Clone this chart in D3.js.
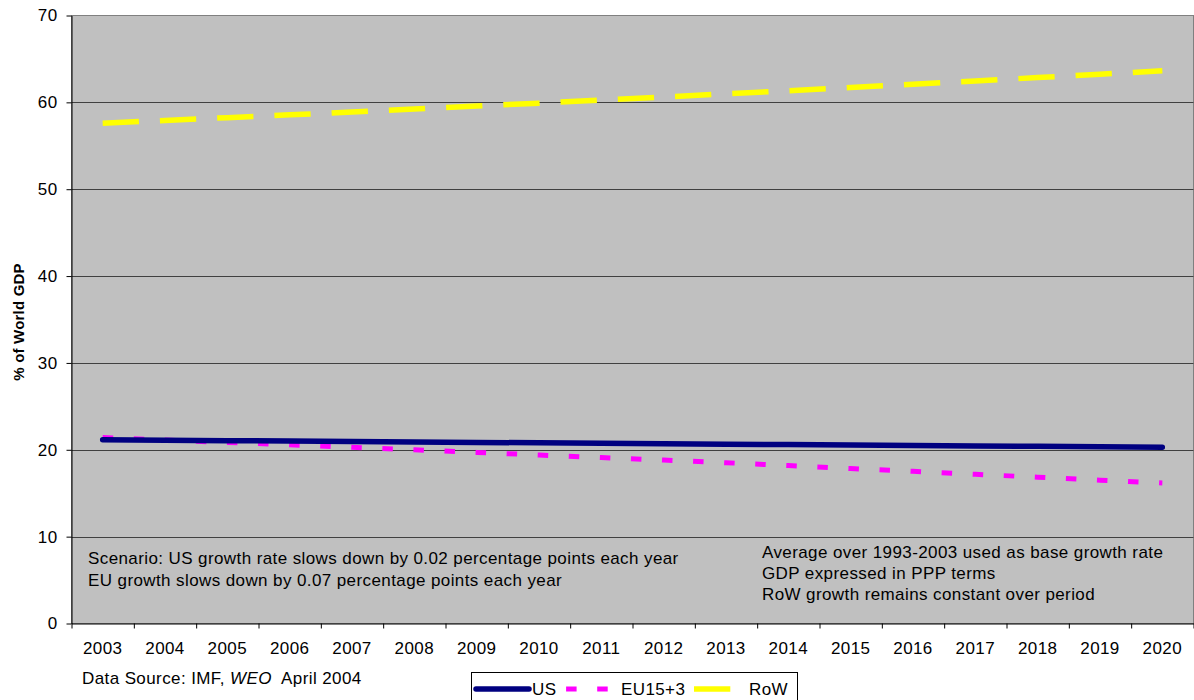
<!DOCTYPE html>
<html>
<head>
<meta charset="utf-8">
<script src="https://cdn.jsdelivr.net/npm/d3@7"></script>
<style>
  html, body { margin: 0; padding: 0; background: #ffffff; }
  svg { display: block; font-family: Arial, "Liberation Sans", sans-serif; }
  svg text { letter-spacing: 0.4px; }
</style>
</head>
<body>
<svg id="chart" width="1194" height="700"></svg>
<script>
// Share of world GDP (PPP), projection 2003-2020
const years = ["2003","2004","2005","2006","2007","2008","2009","2010","2011","2012",
               "2013","2014","2015","2016","2017","2018","2019","2020"];
const usValues  = [21.15, 21.10, 21.05, 21.00, 20.95, 20.90, 20.85, 20.80, 20.75, 20.70,
                   20.65, 20.60, 20.55, 20.50, 20.45, 20.40, 20.35, 20.30];
const euValues  = [21.42, 21.13, 20.84, 20.58, 20.29, 20.00, 19.70, 19.40, 19.10, 18.81,
                   18.51, 18.18, 17.84, 17.52, 17.18, 16.84, 16.50, 16.18];
const rowValues = [57.60, 57.92, 58.24, 58.56, 58.89, 59.23, 59.57, 59.91, 60.26, 60.62,
                   60.98, 61.34, 61.71, 62.09, 62.47, 62.85, 63.24, 63.64];
const yTicks = [0, 10, 20, 30, 40, 50, 60, 70];
const seriesNames = ["US", "EU15+3", "RoW"];
const leftNotes = ["Scenario: US growth rate slows down by 0.02 percentage points each year",
                   "EU growth slows down by 0.07 percentage points each year"];
const rightNotes = ["Average over 1993-2003 used as base growth rate",
                    "GDP expressed in PPP terms",
                    "RoW growth remains constant over period"];

const series = [
  { name: seriesNames[0], values: usValues,  color: "#000080", width: 5.5, dash: null },
  { name: seriesNames[1], values: euValues,  color: "#ff00ff", width: 5,   dash: "10.5,20.6" },
  { name: seriesNames[2], values: rowValues, color: "#ffff00", width: 5.5, dash: "36.3,21" }
];

const FONT = "17px";
const svg = d3.select("#chart");
const plot = { left: 71.5, right: 1193.5, top: 15.5, bottom: 623.5 };

const x = d3.scaleBand().domain(years).range([plot.left, plot.right]).padding(0);
const xEdge = d3.scaleLinear().domain([0, years.length]).range([plot.left, plot.right]);
const y = d3.scaleLinear().domain([0, 70]).range([plot.bottom, plot.top]);

// plot background
svg.append("rect")
  .attr("x", plot.left).attr("y", plot.top)
  .attr("width", plot.right - plot.left).attr("height", plot.bottom - plot.top)
  .attr("fill", "#c0c0c0").attr("stroke", "#808080").attr("stroke-width", 1);

// horizontal gridlines
svg.append("g")
  .selectAll("line")
  .data(yTicks.filter(t => t > 0 && t < 70))
  .join("line")
  .attr("x1", plot.left).attr("x2", plot.right)
  .attr("y1", d => Math.round(y(d)) + 0.5).attr("y2", d => Math.round(y(d)) + 0.5)
  .attr("stroke", "#404040").attr("stroke-width", 1);

// y axis
const yAxis = svg.append("g")
  .attr("transform", `translate(${plot.left},0)`)
  .call(d3.axisLeft(y).tickValues(yTicks).tickSize(5).tickPadding(9).tickSizeOuter(0));
yAxis.select(".domain").attr("stroke", "#000");
yAxis.selectAll(".tick line").attr("stroke", "#000");
yAxis.selectAll(".tick text").attr("font-size", FONT).attr("fill", "#000")
  .attr("font-family", "Arial, 'Liberation Sans', sans-serif");

// x axis: tick marks at category boundaries, labels at category centres
const xAxis = svg.append("g")
  .attr("transform", `translate(0,${plot.bottom})`)
  .call(d3.axisBottom(xEdge).tickValues(d3.range(0, years.length + 1)).tickSize(5)
        .tickFormat("").tickSizeOuter(0));
xAxis.select(".domain").attr("stroke", "#000");
xAxis.selectAll(".tick line").attr("stroke", "#000");

svg.append("g")
  .selectAll("text")
  .data(years)
  .join("text")
  .attr("x", d => x(d) + x.bandwidth() / 2)
  .attr("y", 654)
  .attr("text-anchor", "middle")
  .attr("font-size", FONT)
  .text(d => d);

// y axis title
svg.append("text")
  .attr("transform", "translate(24,322) rotate(-90)")
  .attr("text-anchor", "middle")
  .attr("font-size", "15px")
  .attr("font-weight", "bold")
  .style("letter-spacing", "0.2px")
  .text("% of World GDP");

// series lines
const line = d3.line()
  .x((d, i) => x(years[i]) + x.bandwidth() / 2)
  .y(d => y(d));

const lines = svg.append("g");
series.slice().reverse().forEach(s => {
  lines.append("path")
    .datum(s.values)
    .attr("d", line)
    .attr("fill", "none")
    .attr("stroke", s.color)
    .attr("stroke-width", s.width)
    .attr("stroke-linecap", s.dash ? "butt" : "round")
    .attr("stroke-dasharray", s.dash);
});

// notes inside the plot
svg.append("g").selectAll("text")
  .data(leftNotes).join("text")
  .attr("x", 88).attr("y", (d, i) => 564 + i * 22)
  .attr("font-size", FONT)
  .text(d => d);

svg.append("g").selectAll("text")
  .data(rightNotes).join("text")
  .attr("x", 762).attr("y", (d, i) => 557.5 + i * 21.3)
  .attr("font-size", FONT)
  .text(d => d);

// data source
const src = svg.append("text").attr("x", 82).attr("y", 684).attr("font-size", FONT);
src.append("tspan").text("Data Source: IMF, ");
src.append("tspan").attr("font-style", "italic").text("WEO");
src.append("tspan").text("\u00a0 April 2004");

// legend
const legend = svg.append("g");
legend.append("rect")
  .attr("x", 471.5).attr("y", 672.5).attr("width", 326).attr("height", 40)
  .attr("fill", "#ffffff").attr("stroke", "#000").attr("stroke-width", 1);

const legendItems = [
  { s: series[0], x1: 476, x2: 529, dashOffset: 0,  tx: 532 },
  { s: series[1], x1: 556, x2: 609, dashOffset: 21, tx: 621 },
  { s: series[2], x1: 694, x2: 731, dashOffset: 0,  tx: 749 }
];
legendItems.forEach(it => {
  legend.append("line")
    .attr("x1", it.x1).attr("x2", it.x2).attr("y1", 689).attr("y2", 689)
    .attr("stroke", it.s.color)
    .attr("stroke-width", it.s.width)
    .attr("stroke-linecap", it.s.dash ? "butt" : "round")
    .attr("stroke-dasharray", it.s.dash)
    .attr("stroke-dashoffset", it.dashOffset);
  legend.append("text")
    .attr("x", it.tx).attr("y", 695)
    .attr("font-size", FONT)
    .text(it.s.name);
});
</script>
</body>
</html>
